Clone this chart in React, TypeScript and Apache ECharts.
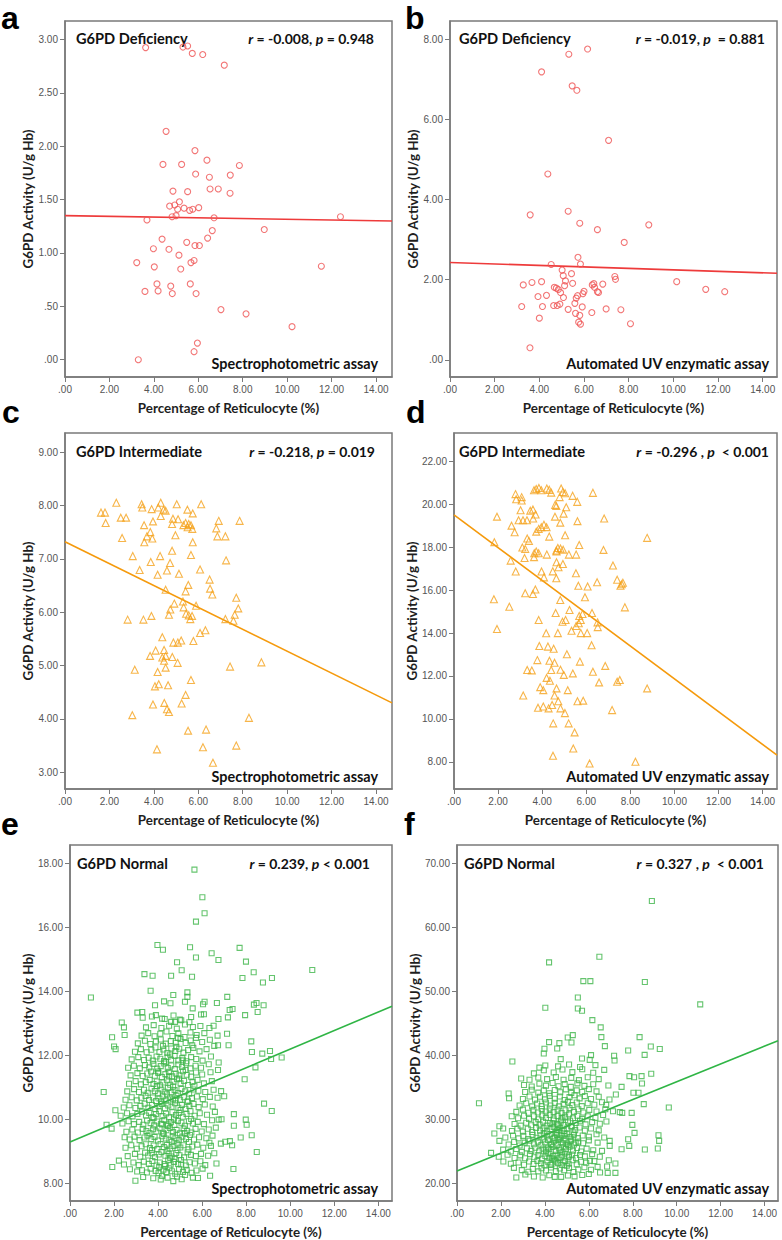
import React, { useEffect, useRef } from 'react';
import * as echarts from 'echarts';

// ---------- tick values ----------
const xTicks = [0, 2, 4, 6, 8, 10, 12, 14];
const yTicksA = [0, 0.5, 1, 1.5, 2, 2.5, 3];
const yTicksB = [0, 2, 4, 6, 8];
const yTicksC = [3, 4, 5, 6, 7, 8, 9];
const yTicksD = [8, 10, 12, 14, 16, 18, 20, 22];
const yTicksE = [8, 10, 12, 14, 16, 18];
const yTicksF = [20, 30, 40, 50, 60, 70];

// ---------- panel a: deficiency, spectrophotometric ----------
const dataA = [
  [3.63, 2.925], [5.31, 2.93], [5.52, 2.94], [5.73, 2.87], [6.2, 2.86], [7.17, 2.76],
  [4.55, 2.14], [5.85, 1.96], [4.41, 1.83], [5.25, 1.83], [6.39, 1.87], [7.85, 1.82],
  [5.88, 1.74], [6.5, 1.71], [7.44, 1.73], [4.86, 1.58], [5.52, 1.575], [6.53, 1.6],
  [6.9, 1.6], [7.43, 1.56], [4.71, 1.44], [4.94, 1.45], [5.15, 1.48], [5.07, 1.41],
  [5.36, 1.42], [5.61, 1.4], [5.75, 1.41], [6.02, 1.425], [4.82, 1.34], [5.0, 1.35],
  [3.69, 1.31], [6.71, 1.33], [12.4, 1.34], [6.63, 1.21], [8.97, 1.22], [4.37, 1.13],
  [6.42, 1.14], [5.48, 1.1], [3.98, 1.04], [4.68, 1.035], [5.85, 1.07], [6.05, 1.07],
  [5.13, 0.98], [3.23, 0.91], [5.67, 0.91], [5.81, 0.93], [4.02, 0.87], [5.21, 0.85],
  [11.54, 0.876], [4.14, 0.71], [4.76, 0.69], [5.64, 0.71], [3.6, 0.64], [4.19, 0.645],
  [4.83, 0.62], [5.9, 0.62], [7.02, 0.47], [8.15, 0.43], [10.22, 0.31], [5.96, 0.156],
  [5.81, 0.075], [3.3, 0.0]
];
const lineA = [[0, 1.35], [14.72, 1.3]];

// ---------- panel b: deficiency, automated UV ----------
const dataB = [
  [5.32, 7.63], [6.16, 7.76], [4.1, 7.19], [5.47, 6.84], [5.68, 6.73], [7.1, 5.48],
  [4.38, 4.64], [3.59, 3.62], [5.29, 3.71], [5.81, 3.41], [6.6, 3.25], [8.9, 3.37],
  [7.8, 2.93], [5.73, 2.56], [5.84, 2.39], [4.53, 2.38], [5.02, 2.24], [5.07, 2.1],
  [5.44, 2.15], [5.17, 1.97], [5.49, 1.91], [5.13, 1.85], [3.28, 1.87], [3.67, 1.93],
  [4.1, 1.95], [4.67, 1.81], [4.76, 1.79], [4.85, 1.755], [4.95, 1.68], [5.08, 1.555],
  [4.32, 1.61], [3.94, 1.58], [5.65, 1.54], [5.59, 1.41], [5.71, 1.6], [6.0, 1.71],
  [5.95, 1.65], [6.37, 1.87], [6.44, 1.9], [6.47, 1.81], [6.6, 1.7], [6.65, 1.68],
  [6.84, 1.89], [7.38, 2.08], [7.41, 2.01], [10.15, 1.95], [11.45, 1.76], [12.3, 1.7],
  [3.21, 1.33], [4.14, 1.33], [4.64, 1.355], [4.8, 1.355], [4.92, 1.39], [5.29, 1.26],
  [5.92, 1.32], [5.62, 1.16], [5.81, 1.11], [6.35, 1.18], [6.99, 1.27], [7.65, 1.25],
  [5.76, 0.94], [5.84, 0.89], [8.08, 0.9], [4.0, 1.04], [3.58, 0.3]
];
const lineB = [[0, 2.43], [14.64, 2.16]];

// ---------- panel c: intermediate, spectrophotometric ----------
const dataC = [
  [1.62, 7.865], [1.8, 7.865], [1.83, 7.67], [2.31, 8.05], [2.51, 7.77], [2.75, 7.77],
  [2.57, 7.39], [3.05, 7.05], [3.14, 4.92], [3.03, 4.07], [2.82, 5.86], [3.36, 6.79],
  [3.45, 8.02], [3.48, 7.96], [3.56, 7.63], [3.57, 7.31], [3.69, 7.42], [3.84, 7.5],
  [3.93, 7.38], [3.86, 6.94], [3.9, 7.93], [3.96, 7.7], [3.89, 5.93], [3.53, 5.86],
  [3.83, 5.18], [4.08, 5.28], [4.17, 4.88], [4.05, 4.61], [4.22, 4.65], [3.96, 4.27],
  [4.14, 3.43], [4.31, 8.05], [4.2, 7.96], [4.31, 7.8], [4.44, 7.92], [4.53, 7.9],
  [4.17, 6.7], [4.28, 7.05], [4.53, 6.42], [4.59, 6.78], [4.73, 6.92], [4.82, 7.15],
  [4.82, 7.65], [4.86, 7.75], [5.09, 7.74], [5.03, 8.02], [4.97, 7.44], [5.13, 6.72],
  [4.38, 5.53], [4.46, 5.29], [4.38, 5.15], [4.53, 5.18], [4.46, 5.09], [4.53, 4.96],
  [4.64, 4.63], [4.47, 4.3], [4.59, 4.18], [4.68, 4.13], [4.74, 6.05], [4.68, 5.95],
  [4.83, 5.16], [4.88, 5.43], [5.08, 5.43], [5.23, 5.47], [5.07, 5.05], [4.92, 6.16],
  [5.25, 4.29], [5.43, 4.45], [5.54, 3.78], [5.67, 4.73], [5.43, 6.39], [5.55, 6.51],
  [5.31, 6.2], [5.34, 6.09], [5.45, 5.97], [5.57, 5.94], [5.64, 5.87], [5.72, 5.93],
  [5.51, 7.92], [5.75, 7.85], [5.33, 7.63], [5.43, 7.67], [5.57, 7.65], [5.67, 7.63],
  [5.73, 7.56], [5.52, 7.59], [5.75, 7.31], [5.67, 7.07], [5.78, 5.46], [5.9, 6.12],
  [6.08, 6.8], [6.08, 5.61], [6.32, 5.66], [6.13, 8.02], [6.21, 3.47], [6.35, 3.8],
  [6.66, 3.18], [6.51, 6.61], [6.53, 6.44], [6.63, 6.33], [6.92, 7.71], [6.81, 7.57],
  [6.86, 7.42], [7.22, 7.42], [7.25, 6.97], [7.22, 5.87], [7.43, 4.98], [7.58, 5.84],
  [7.64, 5.95], [7.71, 6.27], [7.8, 6.07], [7.86, 7.71], [7.71, 3.5], [8.28, 4.02],
  [8.84, 5.06]
];
const lineC = [[0, 7.32], [14.72, 4.3]];

// ---------- panel d: intermediate, automated UV ----------
const dataD = [
  [2.79, 20.48], [2.82, 20.24], [3.07, 20.34], [3.07, 20.18], [3.63, 20.66], [3.73, 20.72],
  [3.85, 20.77], [3.96, 20.66], [4.21, 20.74], [4.32, 20.68], [4.41, 20.55], [4.86, 20.74],
  [4.94, 20.58], [5.04, 20.52], [5.38, 20.4], [5.59, 20.12], [6.3, 20.54], [4.79, 20.34],
  [4.59, 19.98], [4.64, 19.93], [5.09, 19.87], [4.97, 19.57], [4.58, 19.43], [4.82, 19.15],
  [1.95, 19.43], [3.02, 19.73], [2.93, 19.26], [3.13, 19.26], [3.31, 19.26], [3.46, 19.71],
  [3.58, 19.76], [3.7, 19.53], [3.59, 19.34], [2.61, 19.01], [2.75, 18.7], [3.73, 18.73],
  [3.84, 18.86], [3.96, 18.94], [4.08, 19.05], [4.2, 18.94], [4.32, 18.5], [3.32, 18.41],
  [3.4, 18.3], [1.83, 18.24], [5.6, 19.22], [6.81, 19.34], [5.04, 18.56], [5.68, 18.11],
  [8.76, 18.44], [3.1, 17.99], [3.23, 17.92], [3.2, 17.5], [3.64, 17.72], [3.73, 17.81],
  [3.63, 17.54], [3.84, 17.72], [4.21, 17.66], [4.65, 17.81], [4.71, 17.97], [4.64, 17.85],
  [4.83, 17.94], [4.95, 17.89], [5.21, 17.66], [5.54, 17.66], [6.78, 17.88], [4.65, 17.3],
  [4.74, 17.07], [4.94, 17.22], [2.57, 17.38], [2.8, 16.87], [3.97, 16.87], [4.08, 16.6],
  [4.48, 16.88], [4.64, 16.56], [5.53, 16.79], [7.21, 17.15], [5.64, 16.21], [6.06, 16.17],
  [6.49, 16.37], [7.4, 16.49], [7.61, 16.28], [7.66, 16.35], [7.55, 16.21], [3.69, 16.03],
  [3.58, 15.82], [3.23, 15.86], [1.81, 15.58], [2.51, 15.23], [1.95, 14.19], [4.82, 15.54],
  [5.94, 15.67], [5.24, 15.08], [4.61, 14.94], [6.26, 14.94], [5.68, 14.8], [5.83, 14.89],
  [7.75, 15.2], [3.84, 14.61], [4.92, 14.53], [5.06, 14.61], [5.75, 14.61], [5.66, 14.46],
  [5.54, 14.33], [5.33, 14.11], [6.51, 14.5], [6.52, 14.28], [4.18, 13.99], [4.71, 14.0],
  [5.75, 14.0], [6.04, 14.0], [3.87, 13.4], [4.26, 13.37], [4.52, 13.27], [5.12, 13.01],
  [6.24, 13.43], [3.78, 12.74], [4.33, 12.71], [4.56, 12.62], [5.71, 12.67], [6.86, 12.47],
  [3.32, 12.28], [3.53, 12.26], [4.41, 12.28], [4.83, 12.29], [4.98, 12.05], [5.39, 12.12],
  [6.3, 12.2], [4.2, 11.91], [4.35, 11.78], [4.65, 11.42], [3.91, 11.48], [4.05, 11.34],
  [4.56, 11.09], [5.16, 11.34], [6.58, 11.7], [7.4, 11.73], [7.52, 11.81], [8.76, 11.42],
  [3.14, 11.09], [4.73, 10.82], [5.6, 10.82], [5.86, 10.85], [3.81, 10.52], [4.05, 10.58],
  [4.29, 10.49], [4.45, 10.65], [4.83, 10.49], [5.03, 10.27], [7.17, 10.41], [4.5, 9.79],
  [5.2, 9.79], [5.47, 9.37], [5.41, 8.62], [4.49, 8.28], [6.15, 7.92], [8.23, 8.0]
];
const lineD = [[0, 19.51], [14.65, 8.31]];

// ---------- panel e: normal, spectrophotometric ----------
const dataE = [
  [5.65, 17.8], [6.01, 16.94], [6.11, 16.44], [5.72, 16.18], [3.97, 15.45], [4.22, 15.3],
  [5.45, 15.38], [7.7, 15.36], [5.72, 15.06], [6.43, 15.19], [6.74, 14.98], [4.86, 14.91],
  [5.07, 14.66], [7.99, 14.93], [3.38, 14.54], [3.75, 14.49], [4.59, 14.49], [5.54, 14.46],
  [7.83, 14.42], [8.34, 14.6], [8.76, 14.28], [9.17, 14.42], [11.0, 14.67], [0.95, 13.81],
  [3.66, 14.02], [4.69, 13.89], [5.33, 13.97], [5.33, 13.83], [7.14, 13.83], [6.67, 13.64],
  [6.04, 13.6], [6.11, 13.68], [3.86, 13.57], [4.27, 13.69], [4.56, 13.63], [5.22, 13.68],
  [5.57, 13.47], [8.35, 13.59], [8.47, 13.64], [8.79, 13.57], [8.52, 13.36], [7.25, 13.42],
  [7.38, 13.45], [3.06, 13.34], [3.28, 13.36], [3.9, 13.26], [4.3, 13.14], [4.59, 13.05],
  [4.77, 13.05], [4.99, 13.12], [5.42, 13.04], [6.08, 13.29], [6.52, 12.93], [6.74, 13.14],
  [7.17, 13.19], [7.95, 13.26], [2.35, 13.03], [2.45, 12.88], [2.48, 12.64], [1.91, 12.57],
  [2.0, 12.28], [2.07, 12.2], [7.13, 12.68], [7.2, 12.32], [8.23, 12.44], [8.26, 12.11],
  [8.73, 12.06], [9.08, 12.14], [9.13, 11.89], [9.61, 11.94], [8.42, 11.63], [7.93, 11.26],
  [1.53, 10.86], [8.81, 10.5], [9.16, 10.27], [2.06, 10.29], [1.66, 9.84], [1.89, 9.72],
  [1.92, 8.52], [2.22, 8.72], [7.42, 8.46], [8.48, 8.99], [8.25, 9.51], [7.75, 9.44],
  [7.44, 10.17], [7.98, 10.0], [8.02, 9.84], [7.44, 9.81], [7.26, 9.33], [7.36, 9.2],
  [6.33, 9.28], [6.65, 8.63], [6.36, 8.25], [5.81, 8.18], [2.97, 8.09], [5.07, 8.14],
  [4.69, 8.08],
  [3.32, 8.21], [3.78, 8.17], [4.12, 8.13], [4.18, 8.24], [4.43, 8.19], [4.86, 8.22],
  [5.22, 8.27], [5.58, 8.19],
  [2.72, 8.45], [3.05, 8.38], [3.27, 8.42], [3.49, 8.35], [3.66, 8.47], [3.89, 8.4],
  [4.02, 8.33], [4.24, 8.44], [4.37, 8.36], [4.51, 8.48], [4.63, 8.39], [4.78, 8.31],
  [4.95, 8.45], [5.13, 8.37], [5.3, 8.43], [5.52, 8.34], [5.74, 8.41], [6.02, 8.47],
  [2.45, 8.6], [2.88, 8.66], [3.12, 8.58], [3.35, 8.69], [3.58, 8.62], [3.74, 8.71],
  [3.93, 8.57], [4.08, 8.66], [4.29, 8.61], [4.46, 8.73], [4.57, 8.59], [4.72, 8.68],
  [4.91, 8.62], [5.04, 8.74], [5.26, 8.57], [5.43, 8.67], [5.67, 8.63], [5.92, 8.7],
  [6.14, 8.58],
  [2.62, 8.86], [2.95, 8.93], [3.19, 8.84], [3.41, 8.97], [3.55, 8.88], [3.71, 8.95],
  [3.86, 8.83], [4.03, 8.91], [4.15, 8.99], [4.33, 8.87], [4.48, 8.94], [4.61, 8.85],
  [4.82, 8.96], [4.97, 8.89], [5.18, 8.82], [5.34, 8.98], [5.49, 8.9], [5.71, 8.86],
  [5.95, 8.93], [6.27, 8.87], [6.55, 8.95],
  [2.52, 9.12], [2.78, 9.2], [3.03, 9.09], [3.25, 9.17], [3.44, 9.23], [3.63, 9.11],
  [3.8, 9.19], [3.97, 9.08], [4.11, 9.24], [4.26, 9.14], [4.4, 9.21], [4.55, 9.1],
  [4.7, 9.18], [4.88, 9.25], [5.01, 9.13], [5.15, 9.2], [5.38, 9.07], [5.55, 9.16],
  [5.78, 9.22], [6.05, 9.12], [6.4, 9.18], [6.85, 9.25], [7.05, 9.31],
  [2.48, 9.45], [2.71, 9.38], [2.93, 9.47], [3.16, 9.36], [3.38, 9.44], [3.52, 9.5],
  [3.69, 9.39], [3.84, 9.46], [4.0, 9.35], [4.19, 9.48], [4.35, 9.41], [4.51, 9.37],
  [4.66, 9.49], [4.79, 9.42], [4.94, 9.36], [5.1, 9.47], [5.27, 9.4], [5.45, 9.52],
  [5.63, 9.38], [5.86, 9.45], [6.19, 9.42], [6.47, 9.5],
  [2.56, 9.62], [2.83, 9.69], [3.08, 9.6], [3.3, 9.71], [3.47, 9.64], [3.61, 9.58],
  [3.77, 9.7], [3.92, 9.63], [4.07, 9.73], [4.22, 9.59], [4.38, 9.67], [4.53, 9.74],
  [4.68, 9.61], [4.84, 9.68], [4.99, 9.57], [5.16, 9.72], [5.32, 9.65], [5.51, 9.6],
  [5.7, 9.71], [5.98, 9.63], [6.3, 9.69], [6.62, 9.75],
  [2.38, 9.88], [2.66, 9.95], [2.9, 9.86], [3.14, 9.93], [3.33, 9.84], [3.5, 9.97],
  [3.66, 9.89], [3.82, 9.82], [3.96, 9.94], [4.13, 9.87], [4.28, 9.99], [4.43, 9.85],
  [4.58, 9.92], [4.74, 9.83], [4.9, 9.96], [5.06, 9.9], [5.22, 9.81], [5.4, 9.95],
  [5.58, 9.88], [5.8, 9.93], [6.08, 9.86], [6.45, 9.98], [6.75, 10.0], [6.88, 10.01],
  [2.3, 10.12], [2.59, 10.2], [2.84, 10.1], [3.06, 10.18], [3.27, 10.25], [3.45, 10.13],
  [3.6, 10.21], [3.75, 10.08], [3.9, 10.17], [4.05, 10.26], [4.2, 10.11], [4.36, 10.19],
  [4.5, 10.07], [4.65, 10.23], [4.81, 10.14], [4.96, 10.21], [5.12, 10.09], [5.29, 10.18],
  [5.47, 10.26], [5.66, 10.12], [5.89, 10.2], [6.22, 10.15], [6.58, 10.24],
  [2.44, 10.38], [2.7, 10.45], [2.97, 10.36], [3.2, 10.43], [3.39, 10.5], [3.56, 10.37],
  [3.72, 10.46], [3.87, 10.33], [4.02, 10.42], [4.17, 10.49], [4.31, 10.35], [4.46, 10.44],
  [4.61, 10.4], [4.77, 10.51], [4.92, 10.37], [5.08, 10.46], [5.24, 10.34], [5.42, 10.43],
  [5.61, 10.49], [5.84, 10.39], [6.12, 10.47], [6.48, 10.41],
  [2.52, 10.62], [2.8, 10.7], [3.03, 10.6], [3.24, 10.68], [3.43, 10.74], [3.59, 10.61],
  [3.76, 10.69], [3.91, 10.58], [4.06, 10.66], [4.21, 10.73], [4.37, 10.6], [4.53, 10.69],
  [4.68, 10.63], [4.84, 10.75], [5.0, 10.62], [5.17, 10.7], [5.35, 10.59], [5.54, 10.67],
  [5.76, 10.72], [6.03, 10.64], [6.35, 10.71], [6.7, 10.68], [7.0, 10.73],
  [2.6, 10.88], [2.91, 10.95], [3.13, 10.86], [3.36, 10.93], [3.53, 10.84], [3.7, 10.97],
  [3.85, 10.89], [4.0, 10.82], [4.15, 10.94], [4.3, 10.87], [4.45, 10.99], [4.6, 10.85],
  [4.75, 10.92], [4.91, 10.83], [5.06, 10.96], [5.23, 10.88], [5.41, 10.81], [5.6, 10.94],
  [5.83, 10.9], [6.14, 10.86], [6.52, 10.93], [6.86, 10.89],
  [2.68, 11.12], [2.98, 11.2], [3.22, 11.1], [3.44, 11.17], [3.62, 11.24], [3.79, 11.11],
  [3.94, 11.19], [4.09, 11.07], [4.24, 11.16], [4.4, 11.23], [4.55, 11.09], [4.7, 11.18],
  [4.86, 11.26], [5.02, 11.13], [5.18, 11.21], [5.36, 11.08], [5.56, 11.17], [5.79, 11.24],
  [6.08, 11.13], [6.44, 11.2],
  [2.75, 11.38], [3.06, 11.45], [3.3, 11.36], [3.51, 11.44], [3.68, 11.5], [3.85, 11.37],
  [4.01, 11.46], [4.17, 11.33], [4.33, 11.42], [4.49, 11.49], [4.64, 11.35], [4.8, 11.44],
  [4.97, 11.38], [5.13, 11.51], [5.3, 11.4], [5.5, 11.34], [5.72, 11.47], [6.0, 11.41],
  [6.38, 11.48], [6.72, 11.55],
  [2.64, 11.62], [2.9, 11.68], [3.17, 11.6], [3.4, 11.7], [3.6, 11.63], [3.79, 11.74],
  [3.96, 11.59], [4.12, 11.67], [4.28, 11.75], [4.44, 11.61], [4.6, 11.69], [4.76, 11.58],
  [4.92, 11.72], [5.09, 11.64], [5.27, 11.76], [5.47, 11.6], [5.7, 11.68], [5.95, 11.62],
  [6.3, 11.73], [6.75, 11.78],
  [2.8, 11.88], [3.1, 11.95], [3.36, 11.86], [3.57, 11.93], [3.76, 11.84], [3.93, 11.97],
  [4.1, 11.9], [4.27, 11.83], [4.43, 11.96], [4.59, 11.87], [4.75, 11.99], [4.92, 11.85],
  [5.1, 11.92], [5.29, 11.82], [5.5, 11.95], [5.73, 11.89], [6.02, 11.84], [6.4, 11.97],
  [2.95, 12.12], [3.22, 12.2], [3.48, 12.1], [3.69, 12.18], [3.88, 12.25], [4.06, 12.11],
  [4.24, 12.19], [4.42, 12.08], [4.6, 12.22], [4.78, 12.14], [4.96, 12.21], [5.15, 12.09],
  [5.36, 12.17], [5.6, 12.24], [5.88, 12.13], [6.2, 12.2], [6.55, 12.3],
  [3.08, 12.38], [3.4, 12.46], [3.65, 12.36], [3.9, 12.44], [4.12, 12.5], [4.35, 12.37],
  [4.58, 12.45], [4.8, 12.4], [5.02, 12.52], [5.25, 12.39], [5.48, 12.47], [5.72, 12.55],
  [6.0, 12.42], [6.35, 12.49], [6.72, 12.32],
  [3.25, 12.62], [3.55, 12.7], [3.84, 12.6], [4.1, 12.68], [4.38, 12.75], [4.65, 12.61],
  [4.92, 12.69], [5.2, 12.58], [5.47, 12.72], [5.75, 12.64], [6.1, 12.7], [6.7, 12.62],
  [3.45, 12.88], [3.8, 12.95], [4.15, 12.86], [4.5, 12.93], [4.85, 12.84], [5.22, 12.97],
  [5.58, 12.89], [5.92, 12.92], [6.33, 12.86],
  [3.3, 13.18], [3.72, 13.22], [4.18, 13.15], [4.7, 13.25], [5.05, 13.1], [5.5, 13.2],
  [5.95, 13.28],
  [4.05, 8.52], [4.32, 8.55], [4.55, 8.8], [4.75, 8.77], [4.42, 9.02], [4.62, 9.3],
  [4.88, 9.05], [5.2, 9.58], [4.26, 9.55], [4.45, 9.8], [4.72, 10.03], [5.02, 10.3],
  [4.14, 10.56], [4.4, 10.79], [4.68, 11.03], [4.95, 11.28], [5.25, 11.55], [4.35, 11.8],
  [4.55, 12.03], [4.83, 12.27], [5.33, 10.55], [5.5, 10.02], [5.4, 9.3], [5.05, 8.6],
  [4.22, 12.3], [3.95, 11.05], [3.8, 10.05], [3.72, 9.05], [5.65, 11.05], [5.55, 12.32],
  [4.9, 12.55], [4.18, 9.85], [4.8, 10.6], [4.5, 11.35], [5.12, 11.85], [4.0, 11.5]
];
const lineE = [[0, 9.3], [14.62, 13.54]];

// ---------- panel f: normal, automated UV ----------
const dataF = [
  [8.87, 64.11], [6.48, 55.42], [4.19, 54.53], [5.75, 51.61], [6.07, 51.61], [8.55, 51.46],
  [11.07, 47.97], [4.02, 47.45], [5.5, 49.06], [5.5, 47.34], [5.69, 46.98], [6.16, 45.52],
  [6.54, 44.38], [6.57, 42.86], [5.27, 43.18], [5.04, 42.81], [5.21, 42.03], [4.19, 42.08],
  [4.66, 41.93], [4.56, 41.09], [3.98, 41.04], [3.95, 40.31], [6.73, 41.46], [8.31, 42.86],
  [8.82, 41.41], [9.23, 41.0], [8.54, 40.1], [7.79, 40.78], [7.15, 39.95], [7.17, 39.22],
  [6.1, 40.05], [6.04, 39.32], [5.69, 39.53], [4.72, 39.43], [2.52, 39.06], [9.64, 31.87],
  [1.0, 32.55], [8.84, 37.14], [8.4, 36.77], [8.06, 36.61], [7.85, 36.77], [8.42, 35.63],
  [8.5, 32.4], [8.26, 34.17], [8.03, 34.17], [7.95, 31.04], [7.98, 29.17], [8.08, 27.92],
  [7.79, 26.93], [8.55, 25.31], [7.84, 25.89], [7.49, 25.36], [9.17, 27.55], [9.2, 26.67],
  [9.14, 25.47], [7.52, 31.04], [7.41, 31.15], [7.49, 35.1], [7.23, 33.9], [6.94, 33.13],
  [6.89, 35.31], [6.79, 32.29], [7.21, 23.13], [7.21, 21.67], [6.86, 21.67], [6.51, 21.72],
  [6.83, 22.66], [6.91, 23.65], [6.95, 25.89], [6.95, 26.67], [2.7, 20.94], [1.55, 24.79],
  [1.7, 27.81], [1.93, 28.96], [2.1, 28.59], [1.93, 26.67], [2.11, 23.44], [2.35, 34.06],
  [2.37, 33.33], [2.92, 36.41], [2.49, 30.52], [2.59, 22.45], [3.11, 21.41], [3.9, 20.94],
  [4.74, 21.04],
  [3.5, 21.1], [4.2, 21.3], [4.45, 21.05], [5.05, 21.25], [5.35, 21.12], [5.7, 21.35], [6.0, 21.5],
  [2.95, 22.1], [3.25, 21.85], [3.45, 22.3], [3.7, 21.9], [3.85, 22.4], [4.05, 22.05],
  [4.28, 22.5], [4.5, 21.95], [4.68, 22.35], [4.88, 22.08], [5.1, 22.45], [5.3, 21.8],
  [5.52, 22.2], [5.8, 22.55], [6.1, 22.15], [6.4, 22.6],
  [2.45, 23.1], [2.8, 23.3], [3.05, 22.95], [3.28, 23.45], [3.48, 23.05], [3.66, 23.55],
  [3.82, 23.15], [3.98, 22.85], [4.12, 23.4], [4.3, 23.0], [4.46, 23.6], [4.6, 23.2],
  [4.76, 22.9], [4.92, 23.5], [5.08, 23.1], [5.26, 23.65], [5.45, 23.0], [5.64, 23.4],
  [5.88, 23.25], [6.05, 23.55], [6.25, 23.5],
  [1.9, 24.2], [2.3, 24.5], [2.62, 24.0], [2.88, 24.4], [3.1, 23.95], [3.32, 24.6],
  [3.52, 24.1], [3.7, 24.45], [3.86, 23.9], [4.02, 24.3], [4.16, 24.65], [4.32, 24.05],
  [4.48, 24.5], [4.62, 23.95], [4.78, 24.4], [4.93, 24.7], [5.08, 24.15], [5.24, 24.55],
  [5.42, 24.0], [5.6, 24.45], [5.82, 24.25], [6.15, 24.6], [6.5, 24.2],
  [2.1, 25.3], [2.45, 25.0], [2.7, 25.4], [2.95, 24.95], [3.18, 25.5], [3.38, 25.1],
  [3.56, 25.6], [3.74, 25.05], [3.9, 25.45], [4.06, 24.9], [4.2, 25.35], [4.35, 25.7],
  [4.5, 25.1], [4.65, 25.5], [4.8, 24.95], [4.96, 25.4], [5.12, 25.75], [5.28, 25.15],
  [5.46, 25.55], [5.65, 25.0], [5.9, 25.45], [6.2, 25.2], [6.6, 25.1],
  [2.35, 26.1], [2.6, 26.5], [2.85, 25.95], [3.08, 26.4], [3.3, 26.7], [3.5, 26.15],
  [3.68, 26.55], [3.84, 26.0], [4.0, 26.45], [4.14, 26.8], [4.28, 26.2], [4.42, 26.6],
  [4.57, 26.05], [4.72, 26.5], [4.86, 26.85], [5.0, 26.25], [5.16, 26.65], [5.33, 26.1],
  [5.52, 26.55], [5.74, 26.3], [6.0, 26.75], [6.4, 26.4],
  [2.2, 27.2], [2.55, 27.5], [2.8, 27.05], [3.02, 27.45], [3.24, 26.95], [3.44, 27.6],
  [3.62, 27.15], [3.8, 27.55], [3.95, 27.0], [4.1, 27.4], [4.25, 27.75], [4.4, 27.2],
  [4.55, 27.6], [4.7, 27.05], [4.85, 27.45], [5.0, 27.8], [5.15, 27.25], [5.32, 27.65],
  [5.5, 27.1], [5.72, 27.5], [6.0, 27.3], [6.35, 27.7], [6.7, 27.2],
  [2.5, 28.2], [2.75, 28.6], [3.0, 28.1], [3.22, 28.55], [3.42, 28.05], [3.6, 28.7],
  [3.78, 28.25], [3.94, 28.65], [4.1, 28.15], [4.25, 28.5], [4.4, 28.85], [4.55, 28.3],
  [4.7, 28.7], [4.86, 28.2], [5.02, 28.6], [5.2, 28.9], [5.38, 28.35], [5.58, 28.75],
  [5.82, 28.25], [6.1, 28.6], [6.45, 28.3],
  [2.62, 29.3], [2.9, 29.05], [3.15, 29.5], [3.38, 29.1], [3.58, 29.6], [3.76, 29.2],
  [3.92, 29.65], [4.08, 29.05], [4.24, 29.45], [4.4, 29.85], [4.56, 29.3], [4.72, 29.7],
  [4.88, 29.15], [5.05, 29.55], [5.22, 29.0], [5.4, 29.45], [5.6, 29.8], [5.85, 29.25],
  [6.15, 29.6], [6.5, 29.35], [6.8, 29.7],
  [2.78, 30.2], [3.05, 30.6], [3.28, 30.1], [3.5, 30.5], [3.7, 30.05], [3.88, 30.65],
  [4.05, 30.25], [4.22, 30.7], [4.4, 30.15], [4.58, 30.55], [4.75, 30.0], [4.92, 30.45],
  [5.1, 30.8], [5.28, 30.2], [5.48, 30.6], [5.7, 30.1], [5.95, 30.5], [6.3, 30.25], [6.65, 30.7],
  [2.7, 31.2], [3.0, 31.55], [3.25, 31.05], [3.48, 31.5], [3.68, 31.1], [3.86, 31.65],
  [4.04, 31.25], [4.22, 31.7], [4.4, 31.15], [4.58, 31.55], [4.76, 31.0], [4.94, 31.45],
  [5.12, 31.8], [5.32, 31.2], [5.52, 31.6], [5.75, 31.1], [6.02, 31.5], [6.35, 31.25],
  [6.75, 31.6], [7.1, 31.3],
  [2.85, 32.2], [3.15, 32.55], [3.42, 32.05], [3.65, 32.5], [3.85, 32.1], [4.05, 32.65],
  [4.25, 32.2], [4.45, 32.6], [4.65, 32.05], [4.85, 32.45], [5.05, 32.8], [5.25, 32.25],
  [5.45, 32.65], [5.68, 32.1], [5.95, 32.55], [6.25, 32.3], [6.6, 32.7],
  [3.0, 33.2], [3.3, 33.6], [3.55, 33.1], [3.78, 33.55], [4.0, 33.15], [4.22, 33.7],
  [4.45, 33.25], [4.68, 33.6], [4.9, 33.05], [5.12, 33.5], [5.35, 33.8], [5.58, 33.3],
  [5.82, 33.65], [6.1, 33.2], [6.45, 33.55],
  [3.1, 34.3], [3.4, 34.65], [3.7, 34.2], [3.95, 34.55], [4.2, 34.1], [4.45, 34.6],
  [4.7, 34.25], [4.95, 34.7], [5.2, 34.15], [5.45, 34.55], [5.7, 34.3], [6.0, 34.75], [6.35, 34.4],
  [3.05, 35.4], [3.4, 35.15], [3.75, 35.6], [4.05, 35.3], [4.35, 35.7], [4.62, 35.2],
  [4.9, 35.55], [5.18, 35.1], [5.48, 35.65], [5.8, 35.25], [6.2, 35.5],
  [3.3, 36.2], [3.7, 36.55], [4.1, 36.3], [4.5, 36.65], [4.85, 36.2], [5.2, 36.5],
  [5.55, 36.15], [5.95, 36.6], [6.45, 36.3],
  [3.5, 37.2], [3.95, 37.7], [4.4, 37.35], [4.8, 37.8], [5.25, 37.4], [5.7, 37.85],
  [6.2, 37.3], [6.7, 37.75],
  [3.75, 38.1], [4.02, 38.44], [4.6, 38.3], [5.1, 38.6], [5.6, 38.2], [6.3, 38.5],
  [4.38, 24.3], [4.52, 23.4], [4.68, 25.2], [4.82, 26.3], [4.45, 27.1], [4.62, 28.4],
  [4.95, 25.8], [5.1, 24.4], [4.3, 26.0], [4.15, 25.6], [4.72, 24.1], [4.58, 26.9],
  [4.9, 27.8], [5.2, 26.9], [4.4, 23.8], [4.85, 23.3], [5.0, 22.8], [4.25, 22.9],
  [4.6, 29.1], [4.8, 30.3], [5.3, 28.0], [5.4, 26.4], [3.95, 27.8], [4.05, 25.2],
  [4.2, 24.0], [4.5, 28.0], [4.75, 27.5], [5.05, 26.0], [4.35, 29.4], [5.15, 29.8]
];
const lineF = [[0, 21.98], [14.61, 42.3]];

// ---------- labels ----------
const panelLetters = ['a', 'b', 'c', 'd', 'e', 'f'];
const groupNames = ['G6PD Deficiency', 'G6PD Deficiency', 'G6PD Intermediate', 'G6PD Intermediate', 'G6PD Normal', 'G6PD Normal'];
const statTexts = [
  '{i|r} = -0.008, {i|p} = 0.948',
  '{i|r} = -0.019, {i|p}  = 0.881',
  '{i|r} = -0.218, {i|p} = 0.019',
  '{i|r} = -0.296 , {i|p}  < 0.001',
  '{i|r} = 0.239, {i|p} < 0.001',
  '{i|r} = 0.327 , {i|p}  < 0.001'
];
const assayNames = ['Spectrophotometric assay', 'Automated UV enzymatic assay', 'Spectrophotometric assay', 'Automated UV enzymatic assay', 'Spectrophotometric assay', 'Automated UV enzymatic assay'];
const xTitle = 'Percentage of Reticulocyte (%)';
const yTitle = 'G6PD Activity (U/g Hb)';

// ---------- layout (positions / styles only) ----------
const RED = '#ef5454';
const RED_LINE = '#ee3b3b';
const ORANGE = '#f5a21d';
const ORANGE_LINE = '#f59a0c';
const GREEN = '#3fb54a';
const GREEN_LINE = '#2fb545';

const layout = [
  { grid: { left: 65, top: 21, width: 327, height: 356 }, xMax: 14.72, yMin: -0.162, yMax: 3.174, yTicks: yTicksA, data: dataA, line: lineA, symbol: 'circle', size: 6, color: RED, lineColor: RED_LINE,
    letter: [1, 2], name: [76, 38], stat: [374, 38], assay: [378, 363] },
  { grid: { left: 450, top: 21, width: 327, height: 356 }, xMax: 14.64, yMin: -0.43, yMax: 8.46, yTicks: yTicksB, data: dataB, line: lineB, symbol: 'circle', size: 6, color: RED, lineColor: RED_LINE,
    letter: [405, 2], name: [459, 38], stat: [765, 38], assay: [769, 363] },
  { grid: { left: 65, top: 433, width: 327, height: 356 }, xMax: 14.72, yMin: 2.687, yMax: 9.356, yTicks: yTicksC, data: dataC, line: lineC, symbol: 'triangle', size: 7, color: ORANGE, lineColor: ORANGE_LINE,
    letter: [2, 396], name: [76, 451], stat: [375, 451], assay: [378, 776] },
  { grid: { left: 454, top: 433, width: 323, height: 356 }, xMax: 14.65, yMin: 6.73, yMax: 23.33, yTicks: yTicksD, data: dataD, line: lineD, symbol: 'triangle', size: 7, color: ORANGE, lineColor: ORANGE_LINE,
    letter: [406, 396], name: [459, 451], stat: [769, 451], assay: [769, 776] },
  { grid: { left: 70, top: 845, width: 322, height: 356 }, xMax: 14.62, yMin: 7.46, yMax: 18.57, yTicks: yTicksE, data: dataE, line: lineE, symbol: 'rect', size: 5, color: GREEN, lineColor: GREEN_LINE,
    letter: [1, 808], name: [77, 863], stat: [370, 863], assay: [378, 1188] },
  { grid: { left: 457, top: 845, width: 321, height: 356 }, xMax: 14.61, yMin: 17.28, yMax: 72.86, yTicks: yTicksF, data: dataF, line: lineF, symbol: 'rect', size: 5, color: GREEN, lineColor: GREEN_LINE,
    letter: [404, 808], name: [464, 863], stat: [764, 863], assay: [769, 1188] }
];

const AXIS_COLOR = '#7a7a7a';
const TICK_FONT = "'Liberation Sans Narrow', 'Liberation Sans', Arial, sans-serif";
const TITLE_FONT = "Lato, 'Open Sans', sans-serif";
const fmt = (v: number) => v.toFixed(2).replace(/^0\./, '.');

function buildOption() {
  const grid: any[] = [];
  const xAxis: any[] = [];
  const yAxis: any[] = [];
  const series: any[] = [];
  const graphic: any[] = [];

  layout.forEach((p, i) => {
    grid.push({ ...p.grid, show: true, borderColor: AXIS_COLOR, borderWidth: 1.5, backgroundColor: 'transparent' });
    xAxis.push({
      gridIndex: i, type: 'value', min: 0, max: p.xMax,
      axisLine: { show: true, onZero: false, lineStyle: { color: AXIS_COLOR, width: 1.5 } },
      axisTick: { show: true, length: 5, customValues: xTicks, lineStyle: { color: AXIS_COLOR, width: 1 } },
      axisLabel: { customValues: xTicks, formatter: fmt, fontSize: 10, fontFamily: TICK_FONT, color: '#555', margin: 7 },
      splitLine: { show: false },
      name: xTitle, nameLocation: 'middle', nameGap: 24,
      nameTextStyle: { fontFamily: TITLE_FONT, fontWeight: 'bold', fontSize: 13.4, color: '#1e1e1e' }
    });
    yAxis.push({
      gridIndex: i, type: 'value', min: p.yMin, max: p.yMax,
      axisLine: { show: true, onZero: false, lineStyle: { color: AXIS_COLOR, width: 1.5 } },
      axisTick: { show: true, length: 5, customValues: p.yTicks, lineStyle: { color: AXIS_COLOR, width: 1 } },
      axisLabel: { customValues: p.yTicks, formatter: fmt, fontSize: 10, fontFamily: TICK_FONT, color: '#555', margin: 7 },
      splitLine: { show: false },
      name: yTitle, nameLocation: 'middle', nameGap: 30,
      nameTextStyle: { fontFamily: TITLE_FONT, fontWeight: 'bold', fontSize: 13.4, color: '#1e1e1e' }
    });
    series.push({
      type: 'line', xAxisIndex: i, yAxisIndex: i, data: p.line, symbol: 'none', silent: true,
      lineStyle: { color: p.lineColor, width: 1.6 }, z: 1
    });
    series.push({
      type: 'scatter', xAxisIndex: i, yAxisIndex: i, data: p.data, symbol: p.symbol, symbolSize: p.size, silent: true,
      itemStyle: { color: 'rgba(255,255,255,0)', borderColor: p.color, borderWidth: 1.1 }, z: 2
    });
    graphic.push({
      type: 'text', x: p.letter[0], y: p.letter[1], silent: true,
      style: { text: panelLetters[i], fontFamily: "'Liberation Sans', Arial, sans-serif", fontWeight: 'bold', fontSize: 32, fill: '#000', align: 'left', verticalAlign: 'top' }
    });
    graphic.push({
      type: 'text', x: p.name[0], y: p.name[1], silent: true,
      style: { text: groupNames[i], fontFamily: TITLE_FONT, fontWeight: 'bold', fontSize: 14.6, fill: '#111', align: 'left', verticalAlign: 'middle' }
    });
    graphic.push({
      type: 'text', x: p.stat[0], y: p.stat[1], silent: true,
      style: {
        text: statTexts[i], fontFamily: TITLE_FONT, fontWeight: 'bold', fontSize: 14, fill: '#111', align: 'right', verticalAlign: 'middle',
        rich: { i: { fontFamily: TITLE_FONT, fontWeight: 'bold', fontStyle: 'italic', fontSize: 14, fill: '#111' } }
      }
    });
    graphic.push({
      type: 'text', x: p.assay[0], y: p.assay[1], silent: true,
      style: { text: assayNames[i], fontFamily: TITLE_FONT, fontWeight: 'bold', fontSize: 14.4, fill: '#111', align: 'right', verticalAlign: 'middle' }
    });
  });

  return { animation: false, backgroundColor: '#ffffff', grid, xAxis, yAxis, series, graphic };
}

export default function App() {
  const ref = useRef<HTMLDivElement>(null);
  useEffect(() => {
    if (!ref.current) return;
    const chart = echarts.init(ref.current, undefined, { renderer: 'svg' });
    chart.setOption(buildOption() as any);
    return () => chart.dispose();
  }, []);
  return <div ref={ref} style={{ position: 'absolute', left: 0, top: 0, width: 782, height: 1240 }} />;
}
